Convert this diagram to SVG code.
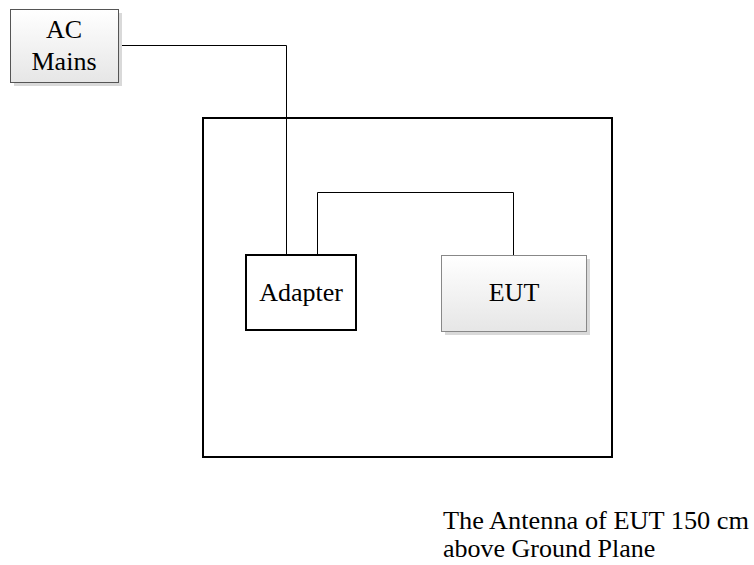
<svg xmlns="http://www.w3.org/2000/svg" width="754" height="565" viewBox="0 0 754 565">
<style>
text{font-family:"Liberation Serif","Times New Roman",serif;font-size:26px;fill:#000}
.c{text-anchor:middle}
.wire{fill:none;stroke:#000;stroke-width:1}
.shadow{fill:#d9d9d9}
</style>
<defs>
<linearGradient id="g" x1="0" y1="0" x2="0" y2="1">
<stop offset="0" stop-color="#ffffff"/>
<stop offset="1" stop-color="#e6e6e6"/>
</linearGradient>
</defs>
<rect x="0" y="0" width="754" height="565" fill="#fff"/>
<g id="ground-plane">
<rect x="203" y="118" width="409" height="339" fill="none" stroke="#000" stroke-width="2"/>
</g>
<g id="connectors">
<polyline class="wire" points="118,45.5 286.5,45.5 286.5,255"/>
<polyline class="wire" points="317.5,255 317.5,192.5 513.5,192.5 513.5,255"/>
</g>
<g id="ac-mains">
<rect class="shadow" x="14" y="13" width="108" height="73"/>
<rect x="10.5" y="9.5" width="108" height="73" fill="url(#g)" stroke="#555" stroke-width="1"/>
<text class="c" x="64" y="38">AC</text>
<text class="c" x="64" y="70">Mains</text>
</g>
<g id="adapter">
<rect x="246" y="255" width="110" height="75" fill="#fff" stroke="#000" stroke-width="2"/>
<text class="c" x="301" y="301">Adapter</text>
</g>
<g id="eut">
<rect class="shadow" x="445" y="259" width="145" height="76"/>
<rect x="441.5" y="255.5" width="145" height="76" fill="url(#g)" stroke="#888" stroke-width="1"/>
<text class="c" x="514" y="301">EUT</text>
</g>
<g id="note">
<text x="443" y="529" textLength="306" lengthAdjust="spacingAndGlyphs">The Antenna of EUT 150 cm</text>
<text x="443" y="557">above Ground Plane</text>
</g>
</svg>
